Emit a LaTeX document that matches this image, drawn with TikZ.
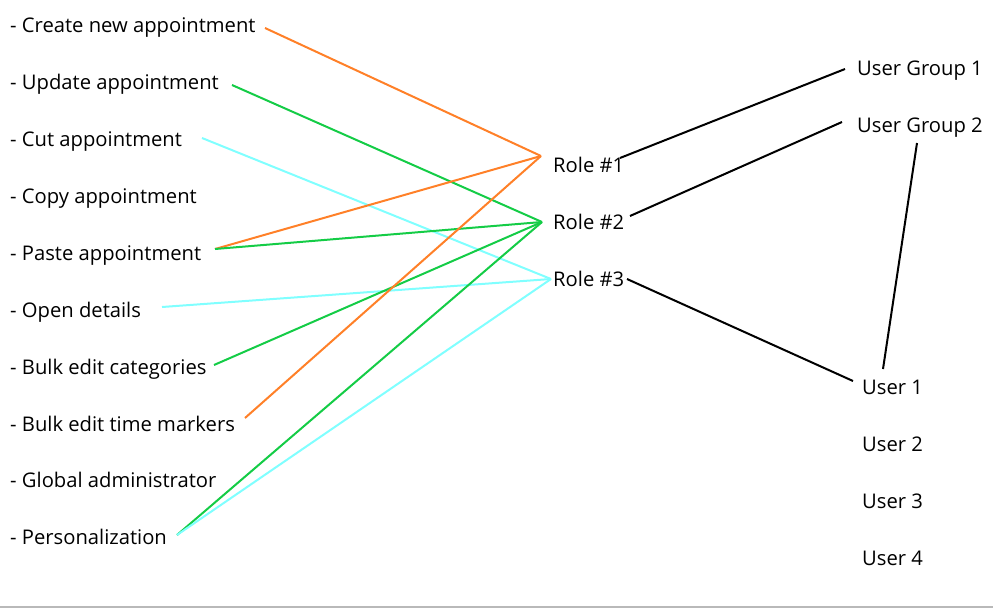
\documentclass[tikz,border=0pt]{standalone}
\usepackage{fontspec}
\setmainfont{Open Sans}
\definecolor{permorange}{RGB}{255,128,40}
\definecolor{permgreen}{RGB}{20,204,70}
\definecolor{permcyan}{RGB}{128,255,255}
\tikzset{
  lbl/.style={anchor=base west, inner sep=0pt, font=\fontsize{20.2}{24}\selectfont},
  link/.style={line width=2pt},
}

\begin{document}
\begin{tikzpicture}[x=1pt, y=-1pt]
    \useasboundingbox (0,0) rectangle (993,608);
    \draw[gray!55, line width=2pt] (0,606.5) -- (993,606.5);

    % permissions
    \node[lbl] (create) at (10,32) {- Create new appointment};
    \node[lbl] (update) at (10,89) {- Update appointment};
    \node[lbl] (cut) at (10,146) {- Cut appointment};
    \node[lbl] (copy) at (10,203) {- Copy appointment};
    \node[lbl] (paste) at (10,260) {- Paste appointment};
    \node[lbl] (open) at (10,317) {- Open details};
    \node[lbl] (bulkcat) at (10,374) {- Bulk edit categories};
    \node[lbl] (bulktime) at (10,431) {- Bulk edit time markers};
    \node[lbl] (global) at (10,487) {- Global administrator};
    \node[lbl] (personal) at (10,544) {- Personalization};

    % roles
    \node[lbl] (role1) at (553,172) {Role \#1};
    \node[lbl] (role2) at (553,229) {Role \#2};
    \node[lbl] (role3) at (553,286) {Role \#3};

    % groups and users
    \node[lbl] (group1) at (857,75) {User Group 1};
    \node[lbl] (group2) at (857,132) {User Group 2};
    \node[lbl] (user1) at (862,394) {User 1};
    \node[lbl] (user2) at (862,451) {User 2};
    \node[lbl] (user3) at (862,508) {User 3};
    \node[lbl] (user4) at (862,565) {User 4};

    % connector ends
    \coordinate (create-r) at (265,28);
    \coordinate (update-r) at (232,85);
    \coordinate (cut-r) at (202,138);
    \coordinate (paste-r) at (215,249);
    \coordinate (open-r) at (162,307);
    \coordinate (bulkcat-r) at (214,365);
    \coordinate (bulktime-r) at (245,418);
    \coordinate (personal-r) at (177,535);
    \coordinate (role1-l) at (541,156);
    \coordinate (role2-l) at (542,222);
    \coordinate (role3-l) at (551,279);
    \coordinate (role1-r) at (620,158);
    \coordinate (role2-r) at (630,216);
    \coordinate (role3-r) at (627,279);
    \coordinate (group1-l) at (845,69);
    \coordinate (group2-l) at (842,122);
    \coordinate (group2-b) at (917,143);
    \coordinate (user1-l) at (853,381);
    \coordinate (user1-t) at (883,369);

    \draw[link, permorange] (create-r) -- (role1-l);
    \draw[link, permgreen] (update-r) -- (role2-l);
    \draw[link, permcyan] (cut-r) -- (role3-l);
    \draw[link, permorange] (paste-r) -- (role1-l);
    \draw[link, permgreen] (paste-r) -- (role2-l);
    \draw[link, permcyan] (open-r) -- (role3-l);
    \draw[link, permgreen] (bulkcat-r) -- (role2-l);
    \draw[link, permorange] (bulktime-r) -- (role1-l);
    \draw[link, permgreen] (personal-r) -- (role2-l);
    \draw[link, permcyan] (personal-r) -- (role3-l);

    \draw[link, black] (role1-r) -- (group1-l);
    \draw[link, black] (role2-r) -- (group2-l);
    \draw[link, black] (role3-r) -- (user1-l);
    \draw[link, black] (group2-b) -- (user1-t);
\end{tikzpicture}
\end{document}
